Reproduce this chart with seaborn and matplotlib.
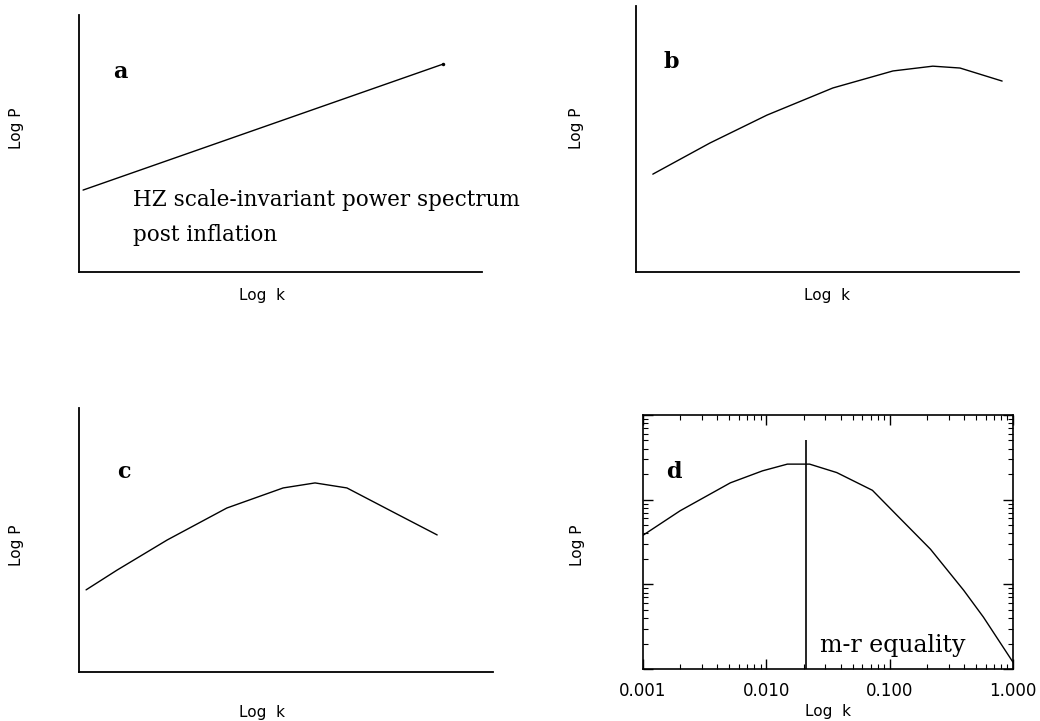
import numpy as np
import pandas as pd
import matplotlib
matplotlib.use("Agg")
import matplotlib.pyplot as plt
from matplotlib.ticker import FuncFormatter, LogLocator, NullFormatter
import seaborn as sns

# ---- data (arbitrary units for a-c) ----
a_x = [0.10, 9.03]
a_y = [3.19, 8.09]

b_x = [0.44, 1.93, 3.42, 5.14, 6.71, 7.75, 8.46, 9.56]
b_y = [3.68, 4.85, 5.90, 6.92, 7.56, 7.74, 7.67, 7.18]

c_x = [0.17, 0.92, 2.13, 3.57, 4.93, 5.70, 6.47, 7.68, 8.65]
c_y = [3.11, 3.86, 5.00, 6.21, 6.97, 7.16, 6.97, 5.98, 5.19]

d_k = [0.001, 0.002, 0.0051, 0.0093, 0.0148, 0.0224, 0.0372, 0.0724, 0.115, 0.214, 0.398, 0.575, 1.0]
d_P = [38, 74, 158, 219, 263, 263, 209, 129, 65, 26, 8.5, 4.1, 1.2]
k_eq = 0.021
k_eq_top = 513

d_xticks = [0.001, 0.01, 0.1, 1.0]

sns.set_style("white")
plt.rcParams['font.family'] = ['DejaVu Sans']
plt.rcParams['text.color'] = 'black'
plt.rcParams['axes.labelcolor'] = 'black'
plt.rcParams['xtick.color'] = 'black'
plt.rcParams['ytick.color'] = 'black'

fig = plt.figure(figsize=(10.4, 7.21), dpi=100)
fig.patch.set_facecolor("white")

ax_a = fig.add_axes([0.0760, 0.6227, 0.3875, 0.3564])
ax_b = fig.add_axes([0.6115, 0.6227, 0.3683, 0.3689])
ax_c = fig.add_axes([0.0760, 0.0680, 0.3981, 0.3662])
ax_d = fig.add_axes([0.6183, 0.0721, 0.3558, 0.3523])

lw = 1.0
serif = ['DejaVu Serif']

def sketch_axes(ax):
    ax.set_xlim(0, 10)
    ax.set_ylim(0, 10)
    ax.set_xticks([])
    ax.set_yticks([])
    for s in ['top', 'right']:
        ax.spines[s].set_visible(False)
    for s in ['left', 'bottom']:
        ax.spines[s].set_color('black')
        ax.spines[s].set_linewidth(1.3)
    ax.set_facecolor('white')

sns.lineplot(x=a_x, y=a_y, ax=ax_a, color='black', lw=lw, marker='o', markersize=2.5,
             markevery=[1], markeredgewidth=0, estimator=None, sort=False)
sns.lineplot(x=b_x, y=b_y, ax=ax_b, color='black', lw=lw, estimator=None, sort=False)
sns.lineplot(x=c_x, y=c_y, ax=ax_c, color='black', lw=lw, estimator=None, sort=False)

for ax in (ax_a, ax_b, ax_c):
    sketch_axes(ax)

# panel d
sns.lineplot(x=d_k, y=d_P, ax=ax_d, color='black', lw=lw, estimator=None, sort=False)
ax_d.vlines(k_eq, 1, k_eq_top, color='black', lw=1.2)
ax_d.set_xscale('log')
ax_d.set_yscale('log')
ax_d.set_xlim(0.001, 1.0)
ax_d.set_ylim(1, 1000)
ax_d.set_xticks(d_xticks)
ax_d.xaxis.set_major_formatter(FuncFormatter(lambda v, p: f"{v:.3f}"))
ax_d.xaxis.set_minor_locator(LogLocator(base=10, subs=np.arange(2, 10)))
ax_d.xaxis.set_minor_formatter(NullFormatter())
ax_d.yaxis.set_major_locator(LogLocator(base=10))
ax_d.yaxis.set_minor_locator(LogLocator(base=10, subs=np.arange(2, 10)))
ax_d.yaxis.set_major_formatter(NullFormatter())
ax_d.yaxis.set_minor_formatter(NullFormatter())
ax_d.tick_params(which='both', direction='in', top=True, right=True, bottom=True, left=True, color='black')
ax_d.tick_params(which='major', length=7, width=1.0, labelsize=12, pad=9)
ax_d.tick_params(which='minor', length=3.5, width=0.8)
for s in ax_d.spines.values():
    s.set_color('black')
    s.set_linewidth(1.2)
ax_d.set_facecolor('white')

# labels
label_kw = dict(fontsize=11, color='black')
coords = {
    ax_a: ((0.454, -0.0895), (-0.154, 0.56)),
    ax_b: ((0.50, -0.0865), (-0.154, 0.541)),
    ax_c: ((0.442, -0.152), (-0.150, 0.481)),
    ax_d: ((0.50, -0.169), (-0.178, 0.488)),
}
for ax, ((xx, xy), (yx, yy)) in coords.items():
    ax.set_xlabel("Log  k", **label_kw)
    ax.set_ylabel("Log P", **label_kw)
    ax.xaxis.set_label_coords(xx, xy)
    ax.xaxis.label.set_va('center')
    ax.yaxis.set_label_coords(yx, yy)
    ax.yaxis.label.set_va('center')

# panel letters
letter_kw = dict(fontsize=16, fontweight='bold', family=serif, ha='left', va='center', color='black')
ax_a.text(0.084, 0.778, "a", transform=ax_a.transAxes, **letter_kw)
ax_b.text(0.072, 0.789, "b", transform=ax_b.transAxes, **letter_kw)
ax_c.text(0.092, 0.758, "c", transform=ax_c.transAxes, **letter_kw)
ax_d.text(0.063, 0.776, "d", transform=ax_d.transAxes, **letter_kw)

ann_kw = dict(family=serif, ha='left', va='center', color='black')
ax_a.text(0.134, 0.28, "HZ scale-invariant power spectrum", transform=ax_a.transAxes, fontsize=15.5, **ann_kw)
ax_a.text(0.134, 0.144, "post inflation", transform=ax_a.transAxes, fontsize=15.5, **ann_kw)
ax_d.text(0.478, 0.094, "m-r equality", transform=ax_d.transAxes, fontsize=17, **ann_kw)

fig.savefig("out.png", dpi=100, facecolor='white')
